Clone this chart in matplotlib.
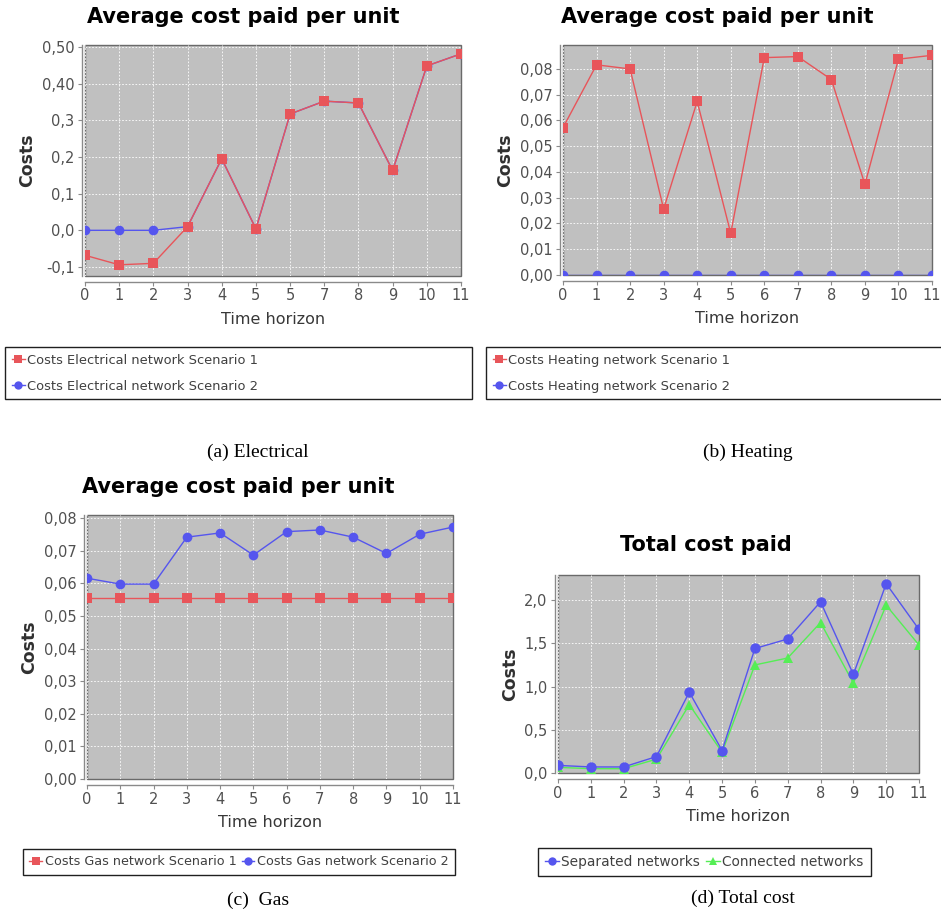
"""
Four-panel JFreeChart-style cost plots: average cost per unit for the
electrical, heating and gas networks, and the total cost paid.
"""

import matplotlib
matplotlib.use("Agg")
import matplotlib.pyplot as plt
from matplotlib.lines import Line2D

# ---- data -----------------------------------------------------------------
hours = list(range(12))

# (a) Electrical
elec_s1 = [-0.068, -0.094, -0.090, 0.010, 0.195, 0.004, 0.317, 0.352, 0.347,
           0.163, 0.448, 0.481]
elec_s2 = [0.000, 0.000, 0.000, 0.010, 0.195, 0.004, 0.317, 0.352, 0.347,
           0.163, 0.448, 0.481]
elec_xlabels = ["0", "1", "2", "3", "4", "5", "5", "7", "8", "9", "10", "11"]
elec_yticks = [-0.1, 0.0, 0.1, 0.2, 0.3, 0.4, 0.5]
elec_ylabels = ["-0,1", "0,0", "0,1", "0,2", "0,3", "0,40", "0,50"]

# (b) Heating
heat_s1 = [0.0572, 0.0816, 0.0800, 0.0256, 0.0674, 0.0162, 0.0844, 0.0848,
           0.0759, 0.0352, 0.0838, 0.0853]
heat_s2 = [0.0] * 12
heat_yticks = [0.00, 0.01, 0.02, 0.03, 0.04, 0.05, 0.06, 0.07, 0.08]
heat_ylabels = ["0,00", "0,01", "0,02", "0,03", "0,04", "0,05", "0,06",
                "0,07", "0,08"]

# (c) Gas
gas_s1 = [0.0556] * 12
gas_s2 = [0.0616, 0.0598, 0.0598, 0.0742, 0.0755, 0.0687, 0.0759, 0.0764,
          0.0742, 0.0692, 0.0751, 0.0773]
gas_yticks = heat_yticks
gas_ylabels = heat_ylabels

# (d) Total cost
total_separated = [0.088, 0.070, 0.070, 0.19, 0.935, 0.26, 1.44, 1.55, 1.98,
                   1.14, 2.19, 1.66]
total_connected = [0.065, 0.050, 0.050, 0.16, 0.79, 0.24, 1.25, 1.33, 1.74,
                   1.04, 1.94, 1.48]
total_yticks = [0.0, 0.5, 1.0, 1.5, 2.0]
total_ylabels = ["0,0", "0,5", "1,0", "1,5", "2,0"]

num_xlabels = [str(h) for h in hours]

RED = "#e8555a"
BLUE = "#5555ee"
GREEN = "#55ee55"
TICK_GREY = "#505050"
W, H = 941.0, 915.0


def style_axes(ax, ylim, yticks, ylabels, xlabels):
    ax.set_facecolor("#c0c0c0")
    ax.patch.set_edgecolor("#6a6a6a")
    ax.patch.set_linewidth(1.0)
    ax.set_xlim(0, 11)
    ax.set_ylim(*ylim)
    ax.set_xticks(hours)
    ax.set_xticklabels(xlabels)
    ax.set_yticks(yticks)
    ax.set_yticklabels(ylabels)
    for side in ("top", "right"):
        ax.spines[side].set_visible(False)
    ax.spines["left"].set_position(("outward", 2.5))
    ax.spines["bottom"].set_position(("outward", 4))
    for side in ("left", "bottom"):
        ax.spines[side].set_color("#8a8a8a")
        ax.spines[side].set_linewidth(1.0)
    ax.tick_params(direction="out", length=3, width=0.8, color="#8a8a8a",
                   labelcolor=TICK_GREY, labelsize=10.5, pad=2)
    ax.grid(True, color="white", linestyle=(0, (2, 2)), linewidth=0.6)
    ax.set_axisbelow(True)
    ax.set_xlabel("Time horizon", fontsize=11.5, color="#383838", labelpad=6)
    ax.set_ylabel("Costs", fontsize=12.5, fontweight="bold", color="#303030",
                  labelpad=4)


def series(ax, y, color, marker, ms=7):
    ax.plot(hours, y, color=color, marker=marker, ms=ms, lw=1.0,
            markeredgewidth=0)


def handle(color, marker):
    return Line2D([], [], color=color, marker=marker, ms=6, lw=1.0,
                  markeredgewidth=0)


def add_legend(fig, handles, labels, box, ncol=1, size=9.4, spacing=1.0):
    x0, y0, x1, y1 = box
    kw = {}
    if ncol == 1:
        anchor = (x0 / W, 1 - y1 / H, (x1 - x0) / W, (y1 - y0) / H)
        kw["mode"] = "expand"
    else:
        anchor = (x0 / W, 1 - y0 / H)
    leg = fig.legend(handles, labels, loc="upper left", ncol=ncol,
                     bbox_to_anchor=anchor, borderaxespad=0, fancybox=False,
                     edgecolor="#202020", framealpha=1, prop={"size": size},
                     handlelength=1.0, handletextpad=0.2, labelspacing=spacing,
                     columnspacing=0.4, borderpad=0.5, **kw)
    leg.get_frame().set_linewidth(1.0)
    for t in leg.get_texts():
        t.set_color("#404040")
    return leg


def main():
    fig = plt.figure(figsize=(9.41, 9.15), dpi=100)

    def rect(left, top, right, bottom):
        return [left / W, 1 - bottom / H, (right - left) / W, (bottom - top) / H]

    title_kw = dict(fontsize=15, fontweight="bold", ha="center",
                    va="center", color="black")
    cap_kw = dict(fontsize=14, family="Liberation Serif", ha="center",
                  va="center", color="black")

    # (a) Electrical
    ax_a = fig.add_axes(rect(85, 45, 461, 276))
    series(ax_a, elec_s2, BLUE, "o")
    series(ax_a, elec_s1, RED, "s")
    style_axes(ax_a, (-0.1245, 0.505), elec_yticks, elec_ylabels, elec_xlabels)
    fig.text(243 / W, 1 - 17 / H, "Average cost paid per unit", **title_kw)
    add_legend(fig, [handle(RED, "s"), handle(BLUE, "o")],
               ["Costs Electrical network Scenario 1",
                "Costs Electrical network Scenario 2"],
               (5, 347, 472, 402))
    fig.text(258 / W, 1 - 452 / H, "(a) Electrical", **cap_kw)

    # (b) Heating
    ax_b = fig.add_axes(rect(563, 45, 932, 275))
    series(ax_b, heat_s2, BLUE, "o")
    series(ax_b, heat_s1, RED, "s")
    style_axes(ax_b, (0.0, 0.0893), heat_yticks, heat_ylabels, num_xlabels)
    fig.text(717 / W, 1 - 17 / H, "Average cost paid per unit", **title_kw)
    add_legend(fig, [handle(RED, "s"), handle(BLUE, "o")],
               ["Costs Heating network Scenario 1",
                "Costs Heating network Scenario 2"],
               (486, 347, 945, 402))
    fig.text(748 / W, 1 - 452 / H, "(b) Heating", **cap_kw)

    # (c) Gas
    ax_c = fig.add_axes(rect(87, 515, 453, 779))
    series(ax_c, gas_s1, RED, "s")
    series(ax_c, gas_s2, BLUE, "o")
    style_axes(ax_c, (0.0, 0.081), gas_yticks, gas_ylabels, num_xlabels)
    fig.text(238 / W, 1 - 487 / H, "Average cost paid per unit", **title_kw)
    add_legend(fig, [handle(RED, "s"), handle(BLUE, "o")],
               ["Costs Gas network Scenario 1", "Costs Gas network Scenario 2"],
               (23, 849, 453, 879), ncol=2, size=9.2)
    fig.text(258 / W, 1 - 900 / H, "(c)  Gas", **cap_kw)

    # (d) Total cost
    ax_d = fig.add_axes(rect(558, 575, 919, 773))
    series(ax_d, total_connected, GREEN, "^")
    series(ax_d, total_separated, BLUE, "o", ms=7.5)
    style_axes(ax_d, (0.0, 2.29), total_yticks, total_ylabels, num_xlabels)
    fig.text(706 / W, 1 - 545 / H, "Total cost paid", **title_kw)
    add_legend(fig, [handle(BLUE, "o"), handle(GREEN, "^")],
               ["Separated networks", "Connected networks"],
               (538, 848, 870, 878), ncol=2, size=9.9)
    fig.text(743 / W, 1 - 898 / H, "(d) Total cost", **cap_kw)

    fig.savefig("out.png", dpi=100)
    plt.close(fig)


if __name__ == "__main__":
    main()
